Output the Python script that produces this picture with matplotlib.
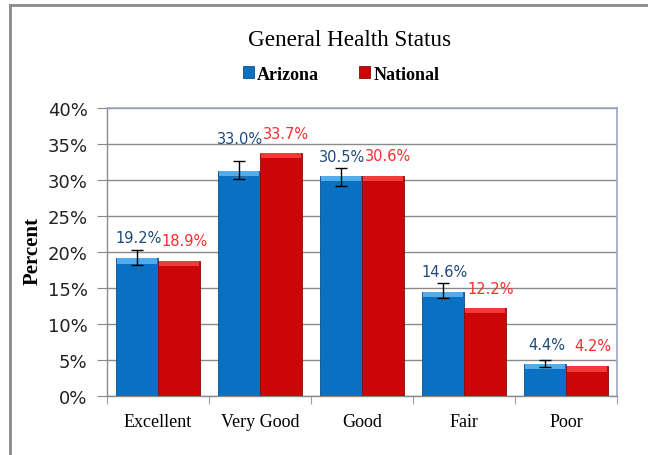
import matplotlib
matplotlib.use("Agg")
import matplotlib.pyplot as plt
import numpy as np
from matplotlib.lines import Line2D
from matplotlib.patches import Rectangle

categories = ["Excellent", "Very Good", "Good", "Fair", "Poor"]
arizona = [19.1, 31.3, 30.5, 14.5, 4.4]
national = [18.8, 33.7, 30.6, 12.2, 4.1]
arizona_labels = ["19.2%", "33.0%", "30.5%", "14.6%", "4.4%"]
national_labels = ["18.9%", "33.7%", "30.6%", "12.2%", "4.2%"]
arizona_label_pos = [19.2, 33.0, 30.5, 14.6, 4.4]
national_label_pos = [18.9, 33.7, 30.6, 12.2, 4.2]
err_low = [18.2, 30.1, 29.2, 13.6, 4.0]
err_high = [20.3, 32.6, 31.7, 15.7, 5.0]
yticks = [0, 5, 10, 15, 20, 25, 30, 35, 40]
ytick_labels = ["0%", "5%", "10%", "15%", "20%", "25%", "30%", "35%", "40%"]

blue = "#0A70C2"
blue_top = "#52ABEA"
blue_edge = "#0A4F8A"
red = "#CC0606"
red_top = "#F23A3A"
red_edge = "#8A0A0A"

fig = plt.figure(figsize=(6.48, 4.56), dpi=100)
fig.patch.set_facecolor("white")

ax = fig.add_axes([107/648, 1-397/456, 510/648, 288/456])
x = np.arange(len(categories))
w = 0.41

az_h = np.array(arizona)
na_h = np.array(national)
bev = 0.7

ax.bar(x - w/2, az_h, w, color=blue, edgecolor=blue_edge, linewidth=0.6, zorder=3)
ax.bar(x + w/2, na_h, w, color=red, edgecolor=red_edge, linewidth=0.6, zorder=3)
ax.bar(x - w/2, bev, w*0.96, bottom=az_h - bev, color=blue_top, linewidth=0, zorder=4)
ax.bar(x + w/2, bev, w*0.96, bottom=na_h - bev, color=red_top, linewidth=0, zorder=4)

lo = np.array(arizona) - np.array(err_low)
hi = np.array(err_high) - np.array(arizona)
ax.errorbar(x - w/2, az_h, yerr=[lo, hi], fmt="none", ecolor="black",
            elinewidth=1.0, capsize=4, capthick=1.0, zorder=5)

for i in range(len(categories)):
    ax.annotate(arizona_labels[i], xy=(x[i] - w/2, arizona_label_pos[i]),
                xytext=(1, 11), textcoords="offset points", ha="center",
                va="baseline", fontsize=10.5, color="#1F497D", family="DejaVu Sans")
    ax.annotate(national_labels[i], xy=(x[i] + w/2, national_label_pos[i]),
                xytext=(4, 11), textcoords="offset points", ha="center",
                va="baseline", fontsize=10.5, color="#FF2A2A", family="DejaVu Sans")

ax.set_xlim(-0.5, 4.5)
ax.set_ylim(0, 40)
ax.set_yticks(yticks)
ax.set_yticklabels(ytick_labels, fontsize=13, family="DejaVu Sans", color="#222222")
ax.yaxis.grid(True, color="#8a8a8a", linewidth=1.0, zorder=0)
ax.set_axisbelow(True)

ax.set_xticks(np.arange(-0.5, 5.0, 1.0))
ax.set_xticklabels([])
ax.tick_params(axis="x", length=6, color="#a0a0a0", direction="out")
ax.tick_params(axis="y", length=7, color="#8a8a8a", direction="out", pad=7)
for i, c in enumerate(categories):
    ax.text(x[i], -3.6, c, ha="center", va="center", fontsize=13,
            family="Liberation Serif", color="black")

for s in ["left", "bottom"]:
    ax.spines[s].set_color("#8a8a8a")
    ax.spines[s].set_linewidth(1.0)
for s in ["top", "right"]:
    ax.spines[s].set_color("#9aa6c4")
    ax.spines[s].set_linewidth(1.2)

fig.text(33/648, 1-251/456, "Percent", rotation=90, ha="center", va="center",
         fontsize=15, fontweight="bold", family="Liberation Serif")

fig.text(350/648, 1-41/456, "General Health Status", ha="center", va="center",
         fontsize=16.7, family="Liberation Serif")

# legend
handles = [Rectangle((0, 0), 1, 1, facecolor=blue, edgecolor=blue_edge, linewidth=0.6),
           Rectangle((0, 0), 1, 1, facecolor=red, edgecolor=red_edge, linewidth=0.6)]
leg = fig.legend(handles, ["Arizona", "National"], loc="center",
                 bbox_to_anchor=(341/648, 1-75/456), ncol=2, frameon=False,
                 prop={"family": "Liberation Serif", "weight": "bold", "size": 13},
                 handlelength=0.6, handleheight=0.6, handletextpad=0.2,
                 columnspacing=2.2)

# outer frame (top and left)
fig.add_artist(Line2D([10/648, 1.0], [1-6/456, 1-6/456], color="#8a8a8a", linewidth=2.0,
                      transform=fig.transFigure))
fig.add_artist(Line2D([10/648, 10/648], [0, 1-6/456], color="#8a8a8a", linewidth=2.0,
                      transform=fig.transFigure))

fig.savefig("out.png", dpi=100)
